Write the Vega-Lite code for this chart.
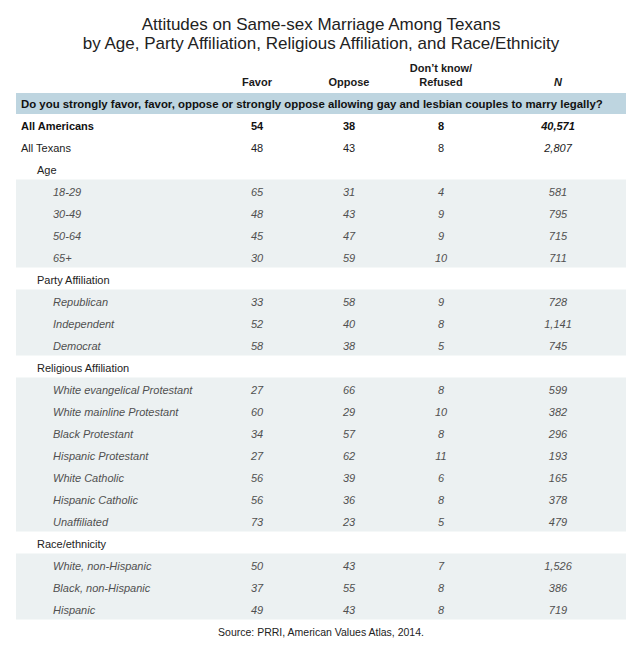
{
  "$schema": "https://vega.github.io/schema/vega-lite/v6.json",
  "autosize": {"type": "none"},
  "width": 610,
  "height": 595,
  "padding": {"left": 16, "top": 60, "right": 14, "bottom": 0},
  "background": "white",
  "config": {"view": {"stroke": null}, "text": {"font": "Liberation Sans", "fontSize": 11}},
  "title": {
    "text": ["Attitudes on Same-sex Marriage Among Texans", "by Age, Party Affiliation, Religious Affiliation, and Race/Ethnicity"],
    "anchor": "middle",
    "font": "Liberation Sans",
    "fontSize": 17,
    "fontWeight": "normal",
    "color": "#222222",
    "lineHeight": 19,
    "baseline": "bottom",
    "offset": -10
  },
  "datasets": {
    "question": [{"label": "Do you strongly favor, favor, oppose or strongly oppose allowing gay and lesbian couples to marry legally?", "tier": "top"}],
    "header": [
      {"label": "header", "col": "favor", "text": "Favor"},
      {"label": "header", "col": "oppose", "text": "Oppose"},
      {"label": "header", "col": "dk", "text": "Refused"}
    ],
    "headerTop": [{"label": "header", "col": "dk", "text": "Don’t know/"}],
    "headerN": [{"label": "header", "col": "n", "text": "N"}],
    "source": [{"label": "source", "text": "Source: PRRI, American Values Atlas, 2014."}],
    "bands": [
      {"group": "Age", "first": "18-29", "last": "65+"},
      {"group": "Party Affiliation", "first": "Republican", "last": "Democrat"},
      {"group": "Religious Affiliation", "first": "White evangelical Protestant", "last": "Unaffiliated"},
      {"group": "Race/ethnicity", "first": "White, non-Hispanic", "last": "Hispanic"}
    ],
    "rows": [
      {"label": "All Americans", "tier": "top", "favor": 54, "oppose": 38, "dk": 8, "n": 40571},
      {"label": "All Texans", "tier": "top", "favor": 48, "oppose": 43, "dk": 8, "n": 2807},
      {"label": "Age", "tier": "group"},
      {"label": "18-29", "tier": "item", "favor": 65, "oppose": 31, "dk": 4, "n": 581},
      {"label": "30-49", "tier": "item", "favor": 48, "oppose": 43, "dk": 9, "n": 795},
      {"label": "50-64", "tier": "item", "favor": 45, "oppose": 47, "dk": 9, "n": 715},
      {"label": "65+", "tier": "item", "favor": 30, "oppose": 59, "dk": 10, "n": 711},
      {"label": "Party Affiliation", "tier": "group"},
      {"label": "Republican", "tier": "item", "favor": 33, "oppose": 58, "dk": 9, "n": 728},
      {"label": "Independent", "tier": "item", "favor": 52, "oppose": 40, "dk": 8, "n": 1141},
      {"label": "Democrat", "tier": "item", "favor": 58, "oppose": 38, "dk": 5, "n": 745},
      {"label": "Religious Affiliation", "tier": "group"},
      {"label": "White evangelical Protestant", "tier": "item", "favor": 27, "oppose": 66, "dk": 8, "n": 599},
      {"label": "White mainline Protestant", "tier": "item", "favor": 60, "oppose": 29, "dk": 10, "n": 382},
      {"label": "Black Protestant", "tier": "item", "favor": 34, "oppose": 57, "dk": 8, "n": 296},
      {"label": "Hispanic Protestant", "tier": "item", "favor": 27, "oppose": 62, "dk": 11, "n": 193},
      {"label": "White Catholic", "tier": "item", "favor": 56, "oppose": 39, "dk": 6, "n": 165},
      {"label": "Hispanic Catholic", "tier": "item", "favor": 56, "oppose": 36, "dk": 8, "n": 378},
      {"label": "Unaffiliated", "tier": "item", "favor": 73, "oppose": 23, "dk": 5, "n": 479},
      {"label": "Race/ethnicity", "tier": "group"},
      {"label": "White, non-Hispanic", "tier": "item", "favor": 50, "oppose": 43, "dk": 7, "n": 1526},
      {"label": "Black, non-Hispanic", "tier": "item", "favor": 37, "oppose": 55, "dk": 8, "n": 386},
      {"label": "Hispanic", "tier": "item", "favor": 49, "oppose": 43, "dk": 8, "n": 719}
    ]
  },
  "encoding": {
    "y": {
      "field": "label", "type": "nominal", "axis": null,
      "scale": {"type": "point", "padding": 0, "range": [23, 573],
        "domain": ["header", "Do you strongly favor, favor, oppose or strongly oppose allowing gay and lesbian couples to marry legally?", "All Americans", "All Texans", "Age", "18-29", "30-49", "50-64", "65+", "Party Affiliation", "Republican", "Independent", "Democrat", "Religious Affiliation", "White evangelical Protestant", "White mainline Protestant", "Black Protestant", "Hispanic Protestant", "White Catholic", "Hispanic Catholic", "Unaffiliated", "Race/ethnicity", "White, non-Hispanic", "Black, non-Hispanic", "Hispanic", "source"]}
    }
  },
  "resolve": {"scale": {"x": "independent"}},
  "layer": [
    {
      "data": {"name": "question"},
      "mark": {"type": "rect", "color": "#bed5e0", "yOffset": -12, "y2Offset": 9},
      "encoding": {"y2": {"field": "label"}}
    },
    {
      "data": {"name": "bands"},
      "mark": {"type": "rect", "color": "#ecf1f2", "yOffset": -13.5, "y2Offset": 8.5},
      "encoding": {
        "y": {
          "field": "first", "type": "nominal", "axis": null,
          "scale": {"type": "point", "padding": 0, "range": [23, 573],
            "domain": ["header", "Do you strongly favor, favor, oppose or strongly oppose allowing gay and lesbian couples to marry legally?", "All Americans", "All Texans", "Age", "18-29", "30-49", "50-64", "65+", "Party Affiliation", "Republican", "Independent", "Democrat", "Religious Affiliation", "White evangelical Protestant", "White mainline Protestant", "Black Protestant", "Hispanic Protestant", "White Catholic", "Hispanic Catholic", "Unaffiliated", "Race/ethnicity", "White, non-Hispanic", "Black, non-Hispanic", "Hispanic", "source"]}
        },
        "y2": {"field": "last"}
      }
    },
    {
      "data": {"name": "header"},
      "mark": {"type": "text", "fontWeight": "bold", "baseline": "middle", "color": "#1a1a1a"},
      "encoding": {
        "x": {"field": "col", "type": "nominal", "axis": null, "scale": {"type": "point", "padding": 0, "domain": ["favor", "oppose", "dk"], "range": [241, 425]}},
        "text": {"field": "text"}
      }
    },
    {
      "data": {"name": "headerTop"},
      "mark": {"type": "text", "fontWeight": "bold", "baseline": "middle", "dy": -14, "color": "#1a1a1a"},
      "encoding": {
        "x": {"field": "col", "type": "nominal", "axis": null, "scale": {"type": "point", "padding": 0, "domain": ["favor", "oppose", "dk"], "range": [241, 425]}},
        "text": {"field": "text"}
      }
    },
    {
      "data": {"name": "headerN"},
      "mark": {"type": "text", "fontWeight": "bold", "fontStyle": "italic", "baseline": "middle", "color": "#1a1a1a"},
      "encoding": {
        "x": {"field": "col", "type": "nominal", "axis": null, "scale": {"type": "point", "padding": 0, "domain": ["n"], "range": [532, 552]}},
        "text": {"field": "text"}
      }
    },
    {
      "data": {"name": "question"},
      "mark": {"type": "text", "fontWeight": "bold", "fontSize": 11.4, "align": "left", "baseline": "middle", "color": "#111111"},
      "encoding": {
        "x": {"field": "tier", "type": "nominal", "axis": null, "scale": {"type": "point", "padding": 0, "domain": ["top", "group", "item"], "range": [5, 37]}},
        "text": {"field": "label"}
      }
    },
    {
      "data": {"name": "rows"},
      "transform": [{"filter": "datum.label == 'All Americans'"}],
      "mark": {"type": "text", "fontWeight": "bold", "align": "left", "baseline": "middle", "color": "#111111"},
      "encoding": {
        "x": {"field": "tier", "type": "nominal", "axis": null, "scale": {"type": "point", "padding": 0, "domain": ["top", "group", "item"], "range": [5, 37]}},
        "text": {"field": "label"}
      }
    },
    {
      "data": {"name": "rows"},
      "transform": [{"filter": "datum.label == 'All Texans' || datum.tier == 'group'"}],
      "mark": {"type": "text", "align": "left", "baseline": "middle", "color": "#222222"},
      "encoding": {
        "x": {"field": "tier", "type": "nominal", "axis": null, "scale": {"type": "point", "padding": 0, "domain": ["top", "group", "item"], "range": [5, 37]}},
        "text": {"field": "label"}
      }
    },
    {
      "data": {"name": "rows"},
      "transform": [{"filter": "datum.tier == 'item'"}],
      "mark": {"type": "text", "fontStyle": "italic", "align": "left", "baseline": "middle", "color": "#505050"},
      "encoding": {
        "x": {"field": "tier", "type": "nominal", "axis": null, "scale": {"type": "point", "padding": 0, "domain": ["top", "group", "item"], "range": [5, 37]}},
        "text": {"field": "label"}
      }
    },
    {
      "data": {"name": "rows"},
      "transform": [{"filter": "datum.label == 'All Americans'"}, {"fold": ["favor", "oppose", "dk"], "as": ["col", "val"]}],
      "mark": {"type": "text", "fontWeight": "bold", "baseline": "middle", "color": "#111111"},
      "encoding": {
        "x": {"field": "col", "type": "nominal", "axis": null, "scale": {"type": "point", "padding": 0, "domain": ["favor", "oppose", "dk"], "range": [241, 425]}},
        "text": {"field": "val", "type": "quantitative", "format": "d"}
      }
    },
    {
      "data": {"name": "rows"},
      "transform": [{"filter": "datum.label == 'All Texans'"}, {"fold": ["favor", "oppose", "dk"], "as": ["col", "val"]}],
      "mark": {"type": "text", "baseline": "middle", "color": "#222222"},
      "encoding": {
        "x": {"field": "col", "type": "nominal", "axis": null, "scale": {"type": "point", "padding": 0, "domain": ["favor", "oppose", "dk"], "range": [241, 425]}},
        "text": {"field": "val", "type": "quantitative", "format": "d"}
      }
    },
    {
      "data": {"name": "rows"},
      "transform": [{"filter": "datum.tier == 'item'"}, {"fold": ["favor", "oppose", "dk"], "as": ["col", "val"]}],
      "mark": {"type": "text", "fontStyle": "italic", "baseline": "middle", "color": "#505050"},
      "encoding": {
        "x": {"field": "col", "type": "nominal", "axis": null, "scale": {"type": "point", "padding": 0, "domain": ["favor", "oppose", "dk"], "range": [241, 425]}},
        "text": {"field": "val", "type": "quantitative", "format": "d"}
      }
    },
    {
      "data": {"name": "rows"},
      "transform": [{"filter": "datum.label == 'All Americans'"}, {"fold": ["n"], "as": ["col", "val"]}],
      "mark": {"type": "text", "fontWeight": "bold", "fontStyle": "italic", "baseline": "middle", "color": "#111111"},
      "encoding": {
        "x": {"field": "col", "type": "nominal", "axis": null, "scale": {"type": "point", "padding": 0, "domain": ["n"], "range": [532, 552]}},
        "text": {"field": "val", "type": "quantitative", "format": ","}
      }
    },
    {
      "data": {"name": "rows"},
      "transform": [{"filter": "datum.label == 'All Texans' || datum.tier == 'item'"}, {"fold": ["n"], "as": ["col", "val"]}],
      "mark": {"type": "text", "fontStyle": "italic", "baseline": "middle"},
      "encoding": {
        "x": {"field": "col", "type": "nominal", "axis": null, "scale": {"type": "point", "padding": 0, "domain": ["n"], "range": [532, 552]}},
        "text": {"field": "val", "type": "quantitative", "format": ","},
        "color": {"condition": {"test": "datum.tier == 'item'", "value": "#505050"}, "value": "#222222"}
      }
    },
    {
      "data": {"name": "source"},
      "mark": {"type": "text", "align": "center", "baseline": "middle", "fontSize": 10.5, "color": "#222222"},
      "encoding": {"text": {"field": "text"}}
    }
  ]
}
